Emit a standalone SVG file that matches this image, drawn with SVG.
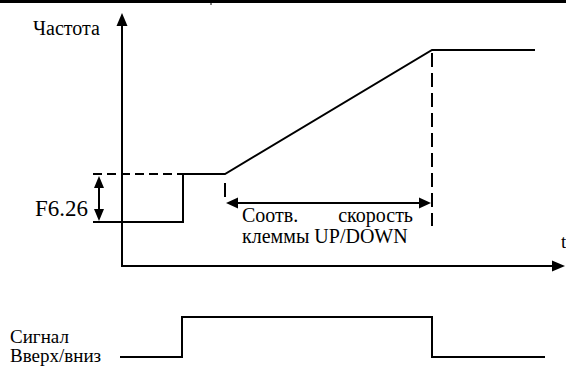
<svg xmlns="http://www.w3.org/2000/svg" width="566" height="367" viewBox="0 0 566 367">
<style>
.ln{stroke:#000;stroke-width:2;fill:none}
.dash{stroke:#000;stroke-width:2;fill:none;stroke-dasharray:9 5}
.vdash{stroke:#000;stroke-width:2;fill:none;stroke-dasharray:14 6}
.txt{fill:#000}
.head{fill:#000;stroke:none}
</style>
<rect width="566" height="367" fill="#fff"/>
<g id="frame">
<rect x="0" y="0" width="566" height="3" fill="#000"/>
<line x1="211" y1="0" x2="211" y2="5" stroke="#000" stroke-width="1"/>
</g>
<g id="axes">
<line class="ln" x1="122" y1="22" x2="122" y2="267"/>
<polygon class="head" points="122,13 116.5,26 127.5,26"/>
<line class="ln" x1="121" y1="266" x2="555" y2="266"/>
<polygon class="head" points="565,266 552,260.5 552,271.5"/>
<text class="txt" font-family="Liberation Serif, Times New Roman, serif" x="33" y="35" font-size="20">Частота</text>
<text class="txt" font-family="Liberation Serif, Times New Roman, serif" x="561" y="248" font-size="19">t</text>
</g>
<g id="frequency-curve">
<line class="dash" x1="93" y1="174" x2="183" y2="174"/>
<polyline class="ln" points="93,222 183,222 183,174 225,174 432,50 535,50"/>
<line class="vdash" x1="432" y1="53" x2="432" y2="226"/>
<line class="ln" x1="225" y1="183" x2="225" y2="197"/>
</g>
<g id="f626-dimension">
<line class="ln" x1="99" y1="184" x2="99" y2="213"/>
<polygon class="head" points="99,176 94,188 104,188"/>
<polygon class="head" points="99,221 94,209 104,209"/>
<text class="txt" font-family="Liberation Serif, Times New Roman, serif" x="35" y="216" font-size="24" textLength="53" lengthAdjust="spacingAndGlyphs">F6.26</text>
</g>
<g id="updown-dimension">
<line class="ln" x1="233" y1="203" x2="424" y2="203"/>
<polygon class="head" points="226,203 238,197.5 238,208.5"/>
<polygon class="head" points="431,203 419,197.5 419,208.5"/>
<text class="txt" font-family="Liberation Serif, Times New Roman, serif" font-size="20"><tspan x="242" y="222">Соотв.</tspan><tspan x="413" y="222" text-anchor="end">скорость</tspan></text>
<text class="txt" font-family="Liberation Serif, Times New Roman, serif" x="242" y="243" font-size="20">клеммы UP/DOWN</text>
</g>
<g id="signal">
<polyline class="ln" points="120,357 182,357 182,317 432,317 432,357 545,357"/>
<text class="txt" font-family="Liberation Serif, Times New Roman, serif" x="10" y="343" font-size="19">Сигнал</text>
<text class="txt" font-family="Liberation Serif, Times New Roman, serif" x="10" y="362" font-size="19">Вверх/вниз</text>
</g>
</svg>
